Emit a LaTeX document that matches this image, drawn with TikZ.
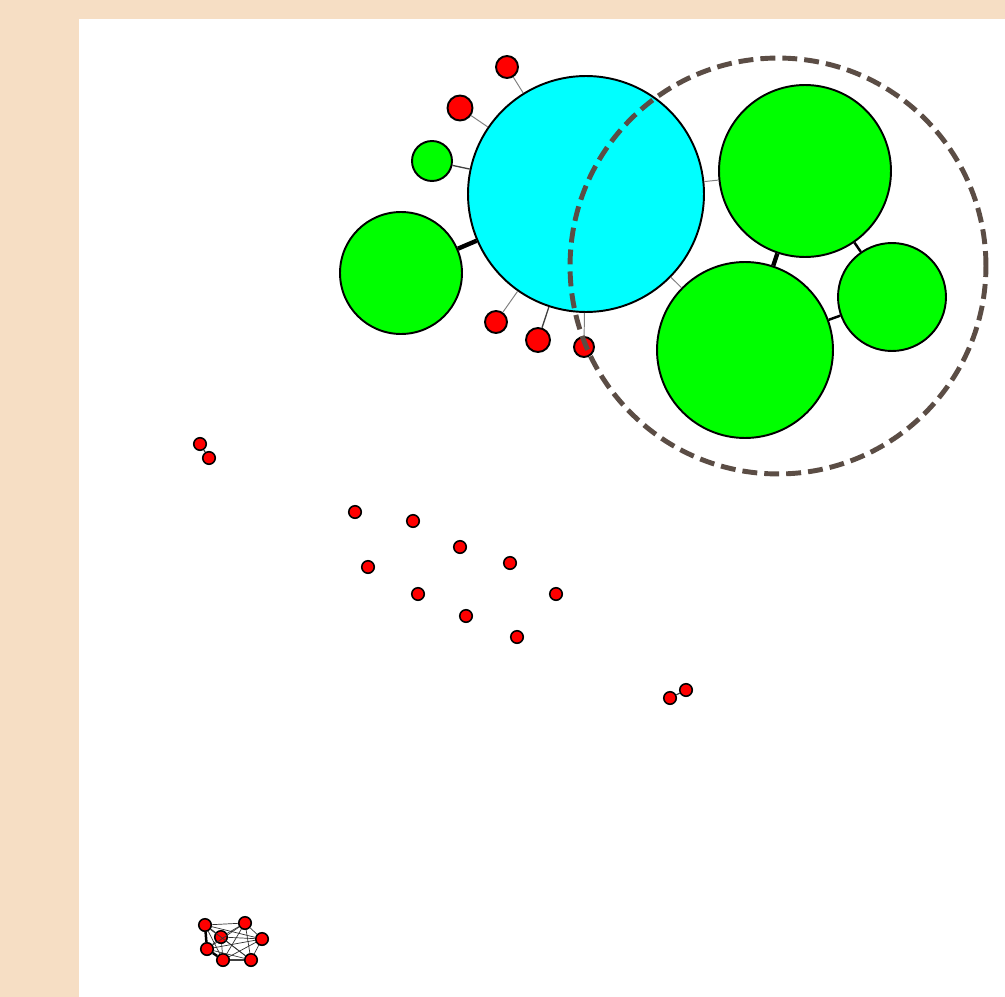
\documentclass[tikz,border=0pt]{standalone}
\definecolor{Sand}{HTML}{F6DEC4}
\definecolor{Aqua}{HTML}{00FFFF}
\definecolor{Lime}{HTML}{00FF00}
\definecolor{Scarlet}{HTML}{FF0000}
\definecolor{Umber}{HTML}{5B4D45}
\definecolor{Wire}{HTML}{808080}
\tikzset{
  vertex/.style={circle,inner sep=0pt,draw=black,line width=1.1pt},
  hub/.style={vertex,fill=Aqua},
  leaf/.style={vertex,fill=Lime},
  dot/.style={vertex,fill=Scarlet},
  tiny/.style={vertex,fill=Scarlet,minimum size=0.25cm,line width=0.9pt},
  thinlink/.style={draw=Wire,line width=0.55pt},
  darklink/.style={draw=black!75,line width=0.75pt},
  midlink/.style={draw=black,line width=1.4pt},
  heavylink/.style={draw=black,line width=2.5pt},
  meshlink/.style={draw=black!80,line width=0.4pt},
  ring/.style={circle,inner sep=0pt,draw=Umber,line width=2.8pt,dash pattern=on 8.5pt off 4pt},
}

\begin{document}
\begin{tikzpicture}[x=0.02cm,y=-0.02cm]
    \useasboundingbox (0,0) rectangle (1005,997);
    \fill[Sand] (0,0) rectangle (1005,997);
    \fill[white] (79,19) rectangle (1005,997);

    % main component
    \node[hub,minimum size=4.72cm] (core) at (586,194) {};
    \node[leaf,minimum size=2.44cm] (west) at (401,273) {};
    \node[leaf,minimum size=0.8cm] (bud) at (432,161) {};
    \node[dot,minimum size=0.44cm] (r1) at (507,67) {};
    \node[dot,minimum size=0.5cm] (r2) at (460,108) {};
    \node[dot,minimum size=0.44cm] (r3) at (496,322) {};
    \node[dot,minimum size=0.48cm] (r4) at (538,340) {};
    \node[dot,minimum size=0.4cm] (r5) at (584,347) {};
    \node[leaf,minimum size=3.44cm] (north) at (805,171) {};
    \node[leaf,minimum size=3.52cm] (south) at (745,350) {};
    \node[leaf,minimum size=2.16cm] (east) at (892,297) {};

    \draw[heavylink] (core) -- (west);
    \draw[darklink] (core) -- (bud);
    \draw[thinlink] (core) -- (r1);
    \draw[thinlink] (core) -- (r2);
    \draw[thinlink] (core) -- (r3);
    \draw[darklink] (core) -- (r4);
    \draw[thinlink] (core) -- (r5);
    \draw[thinlink] (core) -- (north);
    \draw[thinlink] (core) -- (south);
    \draw[heavylink] (north) -- (south);
    \draw[midlink] (north) -- (east);
    \draw[midlink] (south) -- (east);

    % pairs
    \node[tiny] (p1) at (200,444) {};
    \node[tiny] (p2) at (209,458) {};
    \node[tiny] (q1) at (670,698) {};
    \node[tiny] (q2) at (686,690) {};
    \draw[darklink] (p1) -- (p2);
    \draw[darklink] (q1) -- (q2);

    % loose nodes
    \foreach \i/\x/\y in {1/355/512,2/413/521,3/460/547,4/510/563,5/368/567,
                          6/418/594,7/466/616,8/556/594,9/517/637}
      \node[tiny] (s\i) at (\x,\y) {};

    % clique
    \foreach \i/\x/\y in {1/205/925,2/245/923,3/221/937,4/262/939,5/207/949,6/223/960,7/251/960}
      \node[tiny] (k\i) at (\x,\y) {};
    \foreach \a/\b in {1/2,1/4,1/6,1/7,2/3,2/4,2/5,2/6,2/7,3/4,3/5,3/6,3/7,4/5,4/6,4/7,5/7}
      \draw[meshlink] (k\a) -- (k\b);
    \draw[midlink] (k1) -- (k5);
    \draw[midlink] (k5) -- (k6);
    \draw[darklink] (k1) -- (k3);
    \draw[darklink] (k6) -- (k7);

    \node[ring,minimum size=8.32cm] (group) at (778,266) {};
  \end{tikzpicture}
\end{document}
